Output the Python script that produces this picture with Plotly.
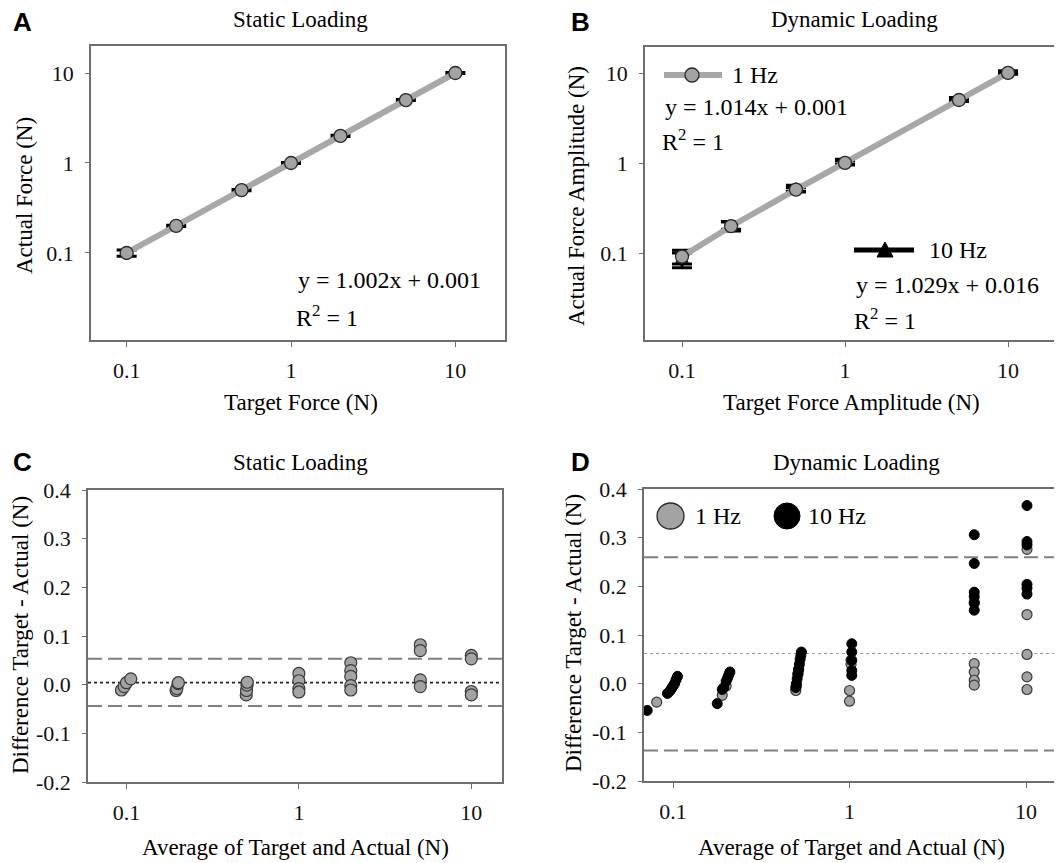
import plotly.graph_objects as go

W, H = 1062, 863
OFF = 8  # default page margin of the html body
def px(x): return (x - OFF) / W
def py(y): return 1 - (y - OFF) / H

SERIF = "Liberation Serif, Times New Roman, serif"
SANS = "Liberation Sans, Arial, sans-serif"
GREY = "#a3a3a3"
LINEGREY = "#a8a8a8"
FRAME = "#6e6e6e"

# ---------------- data ----------------
# Panel A: static loading
a_target = [0.1, 0.2, 0.5, 1, 2, 5, 10]
a_actual = [0.1, 0.2, 0.5, 1.0, 2.0, 5.0, 10.0]
a_err = [0.008, 0.003, 0.008, 0.015, 0.03, 0.06, 0.1]

# Panel B: dynamic loading
b_target = [0.1, 0.2, 0.5, 1, 5, 10]
b_1hz = [0.092, 0.2, 0.51, 1.01, 5.05, 10.1]
b_1hz_err = [0.016, 0.023, 0.03, 0.05, 0.2, 0.3]
b_10hz = [0.085, 0.205, 0.53, 1.04, 5.12, 10.25]
b_10hz_err = [0.016, 0.02, 0.04, 0.07, 0.25, 0.4]

# Panel C: Bland-Altman static
c_avg = [0.0935, 0.097, 0.1, 0.106,
         0.194, 0.196, 0.199, 0.2,
         0.495, 0.497, 0.5, 0.502,
         1.0, 1.0, 1.0, 1.0,
         2.0, 2.0, 2.0, 2.0, 2.0,
         5.06, 5.06, 5.06, 5.06,
         10.0, 10.0, 10.0, 10.0]
c_diff = [-0.011, -0.004, 0.004, 0.012,
          -0.012, -0.008, 0.002, 0.004,
          -0.021, -0.012, -0.001, 0.005,
          0.023, 0.008, -0.008, -0.015,
          0.045, 0.029, 0.017, -0.002, -0.011,
          0.082, 0.070, 0.010, -0.004,
          0.060, 0.053, -0.014, -0.021]
c_mean = 0.004
c_upper = 0.053
c_lower = -0.044

# Panel D: Bland-Altman dynamic
d1_avg = [0.0808, 0.19, 0.2, 0.496, 0.5, 0.51, 0.515,
          1.0, 1.0, 1.02, 1.02,
          5.09, 5.09, 5.09, 5.09, 5.09,
          10.13, 10.13, 10.13, 10.13, 10.13]
d1_diff = [-0.038, -0.024, -0.005, -0.014, -0.005, 0.02, 0.028,
           -0.014, -0.036, 0.04, 0.048,
           0.041, 0.024, 0.007, -0.003, 0.168,
           0.276, 0.142, 0.060, 0.014, -0.012]
d10_avg = [0.0714, 0.093, 0.096, 0.098, 0.1, 0.102, 0.104, 0.106,
           0.178, 0.19, 0.194, 0.2, 0.204, 0.207, 0.21,
           0.496, 0.5, 0.505, 0.51, 0.515, 0.52, 0.525, 0.53, 0.534,
           1.03, 1.03, 1.03, 1.03, 1.03,
           5.09, 5.09, 5.09, 5.09, 5.09, 5.09,
           10.13, 10.13, 10.13, 10.13, 10.13, 10.13]
d10_diff = [-0.055, -0.02, -0.015, -0.01, -0.005, 0.0, 0.008, 0.015,
            -0.041, -0.012, -0.008, 0.005, 0.012, 0.018, 0.024,
            -0.008, 0.0, 0.01, 0.02, 0.03, 0.04, 0.05, 0.058, 0.065,
            0.082, 0.065, 0.048, 0.027, 0.017,
            0.306, 0.247, 0.188, 0.179, 0.165, 0.151,
            0.366, 0.292, 0.285, 0.204, 0.196, 0.184]
d_mean = 0.062
d_upper = 0.26
d_lower = -0.1375

# ---------------- figure ----------------
fig = go.Figure()

marker_grey = dict(symbol="circle", size=13, color=GREY, line=dict(color="#2a2a2a", width=1.3))

# A
fig.add_trace(go.Scatter(
    x=a_target, y=a_actual, xaxis="x", yaxis="y", mode="lines+markers",
    line=dict(color=LINEGREY, width=6), marker=marker_grey,
    error_y=dict(type="data", array=a_err, color="black", thickness=3, width=10),
    showlegend=False))

# B
fig.add_trace(go.Scatter(
    x=b_target, y=b_10hz, xaxis="x2", yaxis="y2", mode="lines+markers",
    line=dict(color="black", width=2, dash="dash"),
    marker=dict(symbol="triangle-up", size=12, color="black"),
    error_y=dict(type="data", array=b_10hz_err, color="black", thickness=3, width=10),
    showlegend=False))
fig.add_trace(go.Scatter(
    x=b_target, y=b_1hz, xaxis="x2", yaxis="y2", mode="lines+markers",
    line=dict(color=LINEGREY, width=6), marker=marker_grey,
    error_y=dict(type="data", array=b_1hz_err, color="black", thickness=3, width=10),
    showlegend=False))

# C
fig.add_trace(go.Scatter(
    x=c_avg, y=c_diff, xaxis="x3", yaxis="y3", mode="markers",
    marker=dict(symbol="circle", size=12, color=GREY, line=dict(color="#3a3a3a", width=1.2)),
    showlegend=False))

# D
fig.add_trace(go.Scatter(
    x=d1_avg, y=d1_diff, xaxis="x4", yaxis="y4", mode="markers",
    marker=dict(symbol="circle", size=10, color=GREY, line=dict(color="#3a3a3a", width=1.2)),
    showlegend=False))
fig.add_trace(go.Scatter(
    x=d10_avg, y=d10_diff, xaxis="x4", yaxis="y4", mode="markers",
    marker=dict(symbol="circle", size=10, color="black", line=dict(color="black", width=1)),
    showlegend=False))

# reference lines C and D
for ref, val, dash, col, wd in [("3", c_mean, "dot", "#222", 1.8), ("3", c_upper, "dash", "#808080", 2),
                                ("3", c_lower, "dash", "#808080", 2),
                                ("4", d_mean, "dot", "#999", 1.2), ("4", d_upper, "dash", "#808080", 2),
                                ("4", d_lower, "dash", "#808080", 2)]:
    fig.add_shape(type="line", xref=f"x{ref} domain", yref=f"y{ref}", x0=0, x1=1, y0=val, y1=val,
                  line=dict(color=col, width=wd, dash=dash if dash == "dot" else "14px,6px"), layer="below")

tickfont = dict(family=SERIF, size=22, color="#111")

def xax(domain, rng, tickvals, ticktext, anchor, mirror=True):
    return dict(domain=domain, type="log", range=rng, tickvals=tickvals, ticktext=ticktext,
                showline=True, linecolor=FRAME, linewidth=1.5, mirror=mirror, ticks="outside",
                ticklen=5, tickcolor=FRAME, tickwidth=1.2, showgrid=False, zeroline=False,
                tickfont=tickfont, anchor=anchor, ticklabelstandoff=5, fixedrange=True,
                automargin=False)

def yax(domain, rng, tickvals, ticktext, anchor, typ="log", mirror=True):
    return dict(domain=domain, type=typ, range=rng, tickvals=tickvals, ticktext=ticktext,
                showline=True, linecolor=FRAME, linewidth=1.5, mirror=mirror, ticks="outside",
                ticklen=4, tickcolor=FRAME, tickwidth=1.2, showgrid=False, zeroline=False,
                tickfont=tickfont, anchor=anchor, ticklabelstandoff=7, fixedrange=True,
                automargin=False)

xt = [0.1, 1, 10]
xtt = ["0.1", "1", "10"]
dy = [-0.2, -0.1, 0.0, 0.1, 0.2, 0.3, 0.4]
dyt = ["-0.2", "-0.1", "0.0", "0.1", "0.2", "0.3", "0.4"]

RIGHT = px(1062)

fig.update_layout(
    width=W, height=H, margin=dict(l=0, r=0, t=0, b=0, pad=0, autoexpand=False),
    paper_bgcolor="white", plot_bgcolor="white",
    xaxis=xax([px(91), px(505)], [-1.217, 1.302], xt, xtt, "y"),
    yaxis=yax([py(340), py(46)], [-1.967, 1.3], xt, xtt, "x"),
    xaxis2=xax([px(645), RIGHT], [-1.227, 1.331], xt, xtt, "y2", mirror=True),
    yaxis2=yax([py(340), py(47)], [-1.963, 1.292], xt, xtt, "x2", mirror=False),
    xaxis3=xax([px(88), px(502)], [-1.223, 1.178], xt, xtt, "y3"),
    yaxis3=yax([py(782), py(490)], [-0.2, 0.4], dy, dyt, "x3", typ="linear"),
    xaxis4=xax([px(644), RIGHT], [-1.1645, 1.204], xt, xtt, "y4", mirror=True),
    yaxis4=yax([py(781), py(489)], [-0.2, 0.4], dy, dyt, "x4", typ="linear", mirror=False),
)

ann = []
def text(x, y, s, size=23, anchor="left", fam=SERIF, angle=0):
    ann.append(dict(x=px(x), y=py(y), xref="paper", yref="paper", text=s, showarrow=False,
                    xanchor=anchor, yanchor="middle", textangle=angle,
                    font=dict(family=fam, size=size, color="black")))

# panel letters
for lx, ly, L in [(11, 22, "A"), (569, 22, "B"), (11, 462, "C"), (569, 462, "D")]:
    text(lx, ly, f"<b>{L}</b>", size=26, fam=SANS)

# titles
text(300, 20, "Static Loading", anchor="center")
text(854, 20, "Dynamic Loading", anchor="center")
text(300, 462, "Static Loading", anchor="center")
text(856, 462, "Dynamic Loading", anchor="center")

# axis titles
text(301, 402, "Target Force (N)", anchor="center")
text(851, 402, "Target Force Amplitude (N)", anchor="center")
text(295, 847, "Average of Target and Actual (N)", anchor="center")
text(851, 847, "Average of Target and Actual (N)", anchor="center")
text(25, 196, "Actual Force (N)", anchor="center", angle=-90)
text(577, 196, "Actual Force Amplitude (N)", anchor="center", angle=-90)
text(20, 635, "Difference Target - Actual (N)", anchor="center", angle=-90)
text(573, 633, "Difference Target - Actual (N)", anchor="center", angle=-90)

# equations
text(296, 280, "y = 1.002x + 0.001", size=24)
text(294, 316, "R<sup>2</sup> = 1", size=24)
text(663, 107, "y = 1.014x + 0.001", size=24)
text(660, 140, "R<sup>2</sup> = 1", size=24)
text(854, 285, "y = 1.029x + 0.016", size=24)
text(852, 319, "R<sup>2</sup> = 1", size=24)

# legend texts
text(730, 75, "1 Hz", size=24)
text(927, 250, "10 Hz", size=24)
text(693, 516, "1 Hz", size=24)
text(806, 516, "10 Hz", size=24)

fig.update_layout(annotations=ann)

# legend symbols
shapes = [
    dict(type="line", xref="paper", yref="paper", x0=px(664), x1=px(722), y0=py(75), y1=py(75),
         line=dict(color=LINEGREY, width=6)),
    dict(type="circle", xref="paper", yref="paper", x0=px(685), x1=px(699), y0=py(82), y1=py(68),
         fillcolor=GREY, line=dict(color="#2a2a2a", width=1.3)),
    dict(type="line", xref="paper", yref="paper", x0=px(854), x1=px(914), y0=py(250), y1=py(250),
         line=dict(color="black", width=5)),
    dict(type="path", xref="paper", yref="paper",
         path=f"M {px(877)} {py(257)} L {px(893)} {py(257)} L {px(885)} {py(242)} Z",
         fillcolor="black", line=dict(color="black", width=1)),
    dict(type="circle", xref="paper", yref="paper", x0=px(657), x1=px(684), y0=py(529), y1=py(503),
         fillcolor=GREY, line=dict(color="#2a2a2a", width=1.3)),
    dict(type="circle", xref="paper", yref="paper", x0=px(774), x1=px(800), y0=py(529), y1=py(503),
         fillcolor="black", line=dict(color="black", width=1)),
]
for s in shapes:
    fig.add_shape(**s)

fig.write_html("out.html")
